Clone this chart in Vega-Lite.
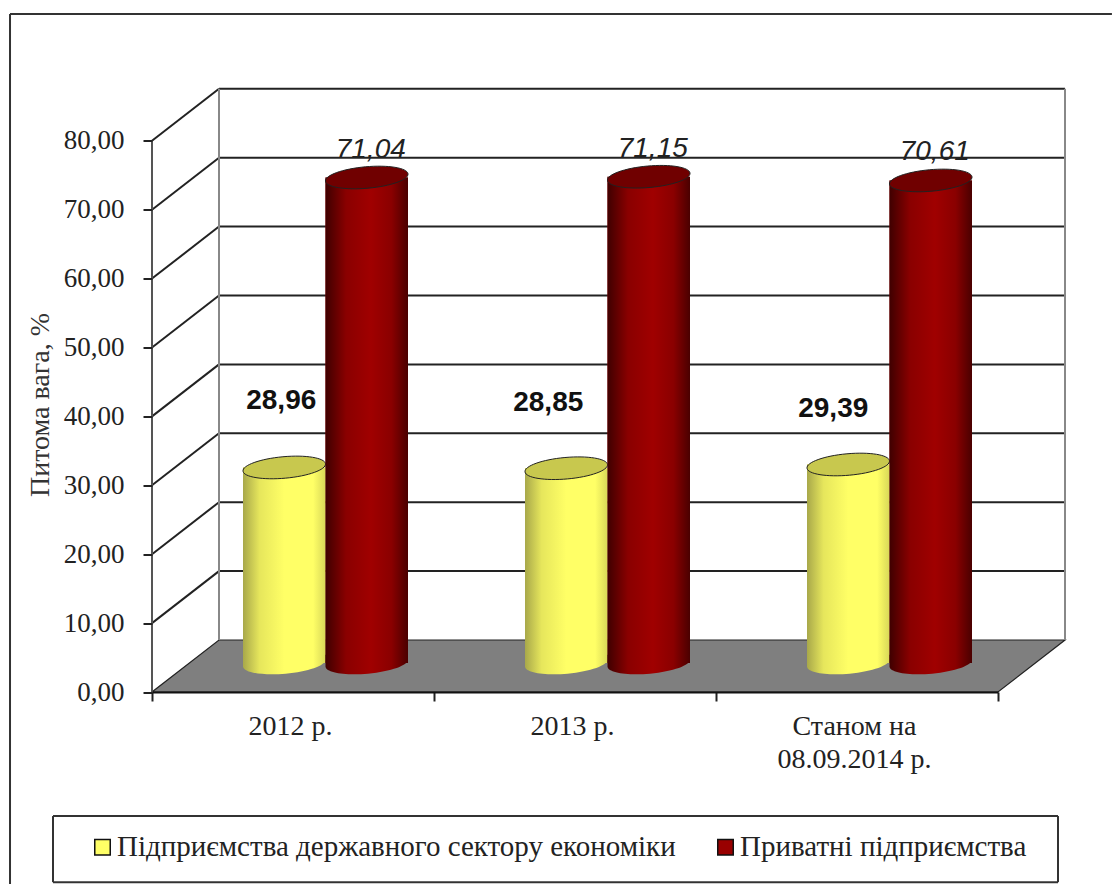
{
"$schema":"https://vega.github.io/schema/vega-lite/v6.json",
"width":913,"height":602.5,
"autosize":{"type":"none"},
"padding":{"left":152,"top":89.5,"right":47,"bottom":192},
"background":"white",
"config":{"view":{"stroke":null},"font":"Liberation Serif"},
"datasets":{
"bars":[
{"period":"2012 р.","series":"Підприємства державного сектору економіки","value":28.96,"label":"28,96"},
{"period":"2012 р.","series":"Приватні підприємства","value":71.04,"label":"71,04"},
{"period":"2013 р.","series":"Підприємства державного сектору економіки","value":28.85,"label":"28,85"},
{"period":"2013 р.","series":"Приватні підприємства","value":71.15,"label":"71,15"},
{"period":"Станом на\n08.09.2014 р.","series":"Підприємства державного сектору економіки","value":29.39,"label":"29,39"},
{"period":"Станом на\n08.09.2014 р.","series":"Приватні підприємства","value":70.61,"label":"70,61"}
],
"levels":[{"level":0},{"level":10},{"level":20},{"level":30},{"level":40},{"level":50},{"level":60},{"level":70},{"level":80}],
"floor":[{"d":0,"low":0,"high":0},{"d":0.2376,"low":0,"high":7.55},{"d":3,"low":0,"high":7.55},{"d":3.2376,"low":7.55,"high":7.55}],
"frame":[
{"a":-0.5035,"b":3.404,"c":98.4,"e":98.4},
{"a":-0.5035,"b":-0.5035,"c":98.4,"e":-28},
{"a":-0.351,"b":3.2128,"c":-18,"e":-18},
{"a":-0.351,"b":3.2128,"c":-27.6,"e":-27.6},
{"a":-0.351,"b":-0.351,"c":-18,"e":-27.6},
{"a":3.2128,"b":3.2128,"c":-18,"e":-27.6}
]
},
"resolve":{"scale":{"x":"independent"},"axis":{"x":"independent"}},
"layer":[
{"layer":[
{"data":{"name":"floor"},"mark":{"type":"area","fill":"#7f7f7f","stroke":"#222","strokeWidth":1.2},
"encoding":{"x":{"field":"d","type":"quantitative","scale":{"domain":[0,3.2376],"nice":false,"zero":false},"axis":null},
"y":{"field":"low","type":"quantitative","stack":null,"scale":{"domain":[0,87.44],"nice":false},"axis":{"values":[0,10,20,30,40,50,60,70,80],"domain":false,"grid":false,"tickSize":9,"tickWidth":2,"tickColor":"#222","labelPadding":19,"labelFont":"Liberation Serif","labelFontSize":27,"labelColor":"#222","labelExpr":"replace(format(datum.value,'.2f'),'.',',')","title":"Питома вага, %","titleFont":"Liberation Serif","titleFontSize":28,"titleFontWeight":"normal","titleColor":"#333","titleX":-98,"titleY":315,"titleAngle":-90,"zindex":1}},
"y2":{"field":"high"}}},
{"data":{"name":"frame"},"mark":{"type":"rule","color":"#333","strokeWidth":2},
"encoding":{"x":{"field":"a","type":"quantitative"},"x2":{"field":"b"},"y":{"field":"c","type":"quantitative"},"y2":{"field":"e"}}},
{"data":{"name":"levels"},"transform":[{"filter":"datum.level>0"}],"mark":{"type":"rule","color":"#222","strokeWidth":2,"yOffset":-52,"y2Offset":-52},
"encoding":{"x":{"datum":0.2376,"type":"quantitative"},"x2":{"datum":3.2376},"y":{"field":"level","type":"quantitative"},"y2":{"field":"level"}}},
{"data":{"name":"levels"},"transform":[{"filter":"datum.level>0"}],"mark":{"type":"rule","color":"#222","strokeWidth":2,"y2Offset":-52},
"encoding":{"x":{"datum":0,"type":"quantitative"},"x2":{"datum":0.2376},"y":{"field":"level","type":"quantitative"},"y2":{"field":"level"}}},
{"data":{"values":[{"w":0.2376},{"w":3.2376}]},"mark":{"type":"rule","color":"#888","strokeWidth":2,"yOffset":-52,"y2Offset":-52},
"encoding":{"x":{"field":"w","type":"quantitative"},"y":{"datum":0,"type":"quantitative"},"y2":{"datum":80}}},
{"data":{"values":[{"w":0}]},"mark":{"type":"rule","color":"#555","strokeWidth":2},
"encoding":{"x":{"field":"w","type":"quantitative"},"y":{"datum":0,"type":"quantitative"},"y2":{"datum":80}}}
]},
{"data":{"name":"bars"},
"encoding":{
"x":{"field":"period","type":"nominal","sort":null,"scale":{"range":[0,846],"paddingInner":0,"paddingOuter":0},"axis":{"orient":"bottom","title":null,"labelAngle":0,"tickBand":"extent","tickSize":9,"tickWidth":2,"tickColor":"#222","domainColor":"#111","domainWidth":2,"labelPadding":11,"labelOffset":-3,"labelFont":"Liberation Serif","labelFontSize":28,"labelColor":"#222","labelBaseline":"top","labelLineHeight":33,"labelExpr":"split(datum.label,'\\n')","zindex":1}},
"xOffset":{"field":"series","type":"nominal","sort":null,"scale":{"range":[91,256],"paddingInner":0,"paddingOuter":0}}
},
"layer":[
{"mark":{"type":"bar","yOffset":-25,"y2Offset":-29},
"encoding":{"y":{"field":"value","type":"quantitative","stack":null},"y2":{"datum":0},
"color":{"field":"series","type":"nominal","sort":null,"scale":{"range":["#ffff66","#990000"]},
"legend":{"orient":"none","legendX":-64,"legendY":743,"direction":"horizontal","columns":2,"title":null,"padding":0,"symbolType":"square","symbolSize":240,"symbolStrokeColor":"#111","symbolStrokeWidth":1.5,"labelFont":"Liberation Serif","labelFontSize":29,"labelColor":"#222","labelLimit":700,"labelOffset":0,"columnPadding":35}}}},
{"transform":[{"filter":"datum.series=='Підприємства державного сектору економіки'"}],"layer":[
{"mark":{"type":"bar","yOffset":-25,"y2Offset":-29,"fill":{"gradient":"linear","x1":0,"x2":1,"y1":0,"y2":0,"stops":[{"offset":0,"color":"#a8a84a"},{"offset":0.2,"color":"#e6e65c"},{"offset":0.5,"color":"#ffff66"},{"offset":0.85,"color":"#ffff66"},{"offset":1,"color":"#d8d858"}]},"stroke":null},
"encoding":{"y":{"field":"value","type":"quantitative","stack":null},"y2":{"datum":0}}},
{"mark":{"type":"point","filled":true,"yOffset":-29,"shape":"M-1,0.09 A1,0.26 -5 1 0 1,-0.09 L1,-0.2 L-1,-0.2 Z","size":6806,"fill":{"gradient":"linear","x1":0,"x2":1,"y1":0,"y2":0,"stops":[{"offset":0,"color":"#a8a84a"},{"offset":0.2,"color":"#e6e65c"},{"offset":0.5,"color":"#ffff66"},{"offset":0.85,"color":"#ffff66"},{"offset":1,"color":"#d8d858"}]},"opacity":1,"stroke":null},
"encoding":{"y":{"datum":0,"type":"quantitative"}}},
{"mark":{"type":"point","filled":true,"yOffset":-25,"shape":"M-1,0.09 A1,0.26 -5 1 1 1,-0.09 A1,0.26 -5 1 1 -1,0.09 Z","size":6806,"fill":"#c8c84e","opacity":1,"stroke":"#222","strokeWidth":1},
"encoding":{"y":{"field":"value","type":"quantitative"}}}
]},
{"transform":[{"filter":"datum.series=='Приватні підприємства'"}],"layer":[
{"mark":{"type":"bar","yOffset":-25,"y2Offset":-29,"fill":{"gradient":"linear","x1":0,"x2":1,"y1":0,"y2":0,"stops":[{"offset":0,"color":"#3f0000"},{"offset":0.25,"color":"#8a0000"},{"offset":0.55,"color":"#a00000"},{"offset":0.8,"color":"#8a0000"},{"offset":1,"color":"#4a0000"}]},"stroke":null},
"encoding":{"y":{"field":"value","type":"quantitative","stack":null},"y2":{"datum":0}}},
{"mark":{"type":"point","filled":true,"yOffset":-29,"shape":"M-1,0.09 A1,0.26 -5 1 0 1,-0.09 L1,-0.2 L-1,-0.2 Z","size":6806,"fill":{"gradient":"linear","x1":0,"x2":1,"y1":0,"y2":0,"stops":[{"offset":0,"color":"#3f0000"},{"offset":0.25,"color":"#8a0000"},{"offset":0.55,"color":"#a00000"},{"offset":0.8,"color":"#8a0000"},{"offset":1,"color":"#4a0000"}]},"opacity":1,"stroke":null},
"encoding":{"y":{"datum":0,"type":"quantitative"}}},
{"mark":{"type":"point","filled":true,"yOffset":-25,"shape":"M-1,0.09 A1,0.26 -5 1 1 1,-0.09 A1,0.26 -5 1 1 -1,0.09 Z","size":6806,"fill":"#700000","opacity":1,"stroke":"#222","strokeWidth":1},
"encoding":{"y":{"field":"value","type":"quantitative"}}},
{"mark":{"type":"text","font":"Liberation Sans","fontSize":28,"fontStyle":"italic","color":"#222","dx":4,"dy":-53},
"encoding":{"y":{"field":"value","type":"quantitative"},"text":{"field":"label"}}}
]},
{"transform":[{"filter":"datum.label=='28,96'"}],"mark":{"type":"text","font":"Liberation Sans","fontSize":28,"fontWeight":"bold","color":"#111","dx":-3,"dy":-91},
"encoding":{"y":{"field":"value","type":"quantitative"},"text":{"field":"label"}}},
{"transform":[{"filter":"datum.label=='28,85'"}],"mark":{"type":"text","font":"Liberation Sans","fontSize":28,"fontWeight":"bold","color":"#111","dx":-18,"dy":-90},
"encoding":{"y":{"field":"value","type":"quantitative"},"text":{"field":"label"}}},
{"transform":[{"filter":"datum.label=='29,39'"}],"mark":{"type":"text","font":"Liberation Sans","fontSize":28,"fontWeight":"bold","color":"#111","dx":-15,"dy":-80},
"encoding":{"y":{"field":"value","type":"quantitative"},"text":{"field":"label"}}}
]}
]
}
